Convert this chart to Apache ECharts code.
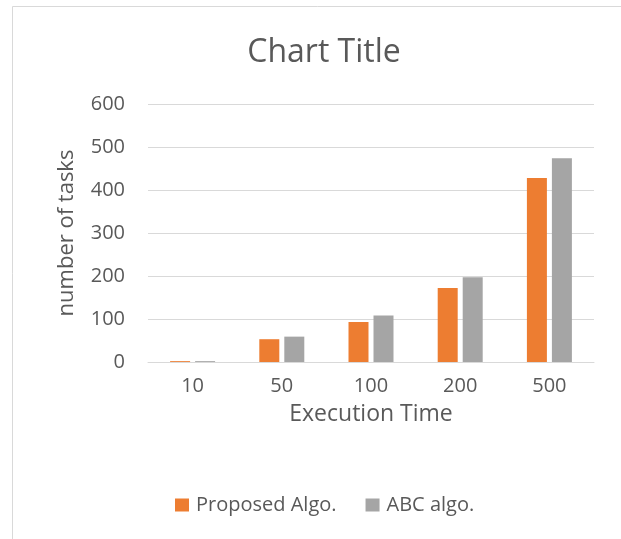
<!DOCTYPE html>
<html>
<head>
<meta charset="utf-8">
<script src="https://cdn.jsdelivr.net/npm/echarts@6/dist/echarts.min.js"></script>
<style>
html,body{margin:0;padding:0;background:#fff;}
#main{width:621px;height:539px;}
</style>
</head>
<body>
<div id="main"></div>
<script>
const categories = ['10', '50', '100', '200', '500'];
const proposedAlgo = [2, 53, 93, 172, 428];
const abcAlgo = [2, 59, 108, 197, 474];
const yTicks = [0, 100, 200, 300, 400, 500, 600];

const FONT = 'Open Sans';
const TXT = '#595959';
const chart = echarts.init(document.getElementById('main'));
chart.setOption({
  animation: false,
  backgroundColor: '#fff',
  title: {
    text: 'Chart Title',
    left: 319,
    textAlign: 'center',
    top: 32,
    textStyle: {fontFamily: FONT, fontSize: 32, fontWeight: 'normal', color: TXT}
  },
  graphic: [{
    type: 'rect',
    shape: {x: 12.5, y: 6.5, width: 800, height: 800},
    style: {fill: 'none', stroke: '#d9d9d9', lineWidth: 1},
    silent: true
  }],
  legend: {
    bottom: 19,
    left: 170,
    itemWidth: 14,
    itemHeight: 13,
    itemGap: 29,
    icon: 'rect',
    textStyle: {fontFamily: FONT, fontSize: 20, color: TXT, padding: [0, 0, 0, 2]},
    data: ['Proposed Algo.', 'ABC algo.']
  },
  grid: {left: 148, right: 27, top: 104, bottom: 177},
  xAxis: {
    type: 'category',
    data: categories,
    name: 'Execution Time',
    nameLocation: 'middle',
    nameGap: 41,
    nameTextStyle: {fontFamily: FONT, fontSize: 23, color: TXT},
    axisLine: {lineStyle: {color: '#d9d9d9', width: 1}},
    axisTick: {show: false},
    axisLabel: {fontFamily: FONT, fontSize: 20, color: TXT, margin: 14}
  },
  yAxis: {
    type: 'value',
    min: yTicks[0],
    max: yTicks[yTicks.length - 1],
    interval: 100,
    name: 'number of tasks',
    nameLocation: 'middle',
    nameGap: 70,
    nameTextStyle: {fontFamily: FONT, fontSize: 22, color: TXT},
    axisLine: {show: false},
    axisTick: {show: false},
    splitLine: {lineStyle: {color: '#d9d9d9', width: 1}},
    axisLabel: {fontFamily: FONT, fontSize: 20, color: TXT, margin: 23}
  },
  series: [
    {name: 'Proposed Algo.', type: 'bar', data: proposedAlgo, itemStyle: {color: '#ED7D31'},
     barWidth: 20, barGap: '25%'},
    {name: 'ABC algo.', type: 'bar', data: abcAlgo, itemStyle: {color: '#A5A5A5'},
     barWidth: 20, barGap: '25%'}
  ]
});
</script>
</body>
</html>
